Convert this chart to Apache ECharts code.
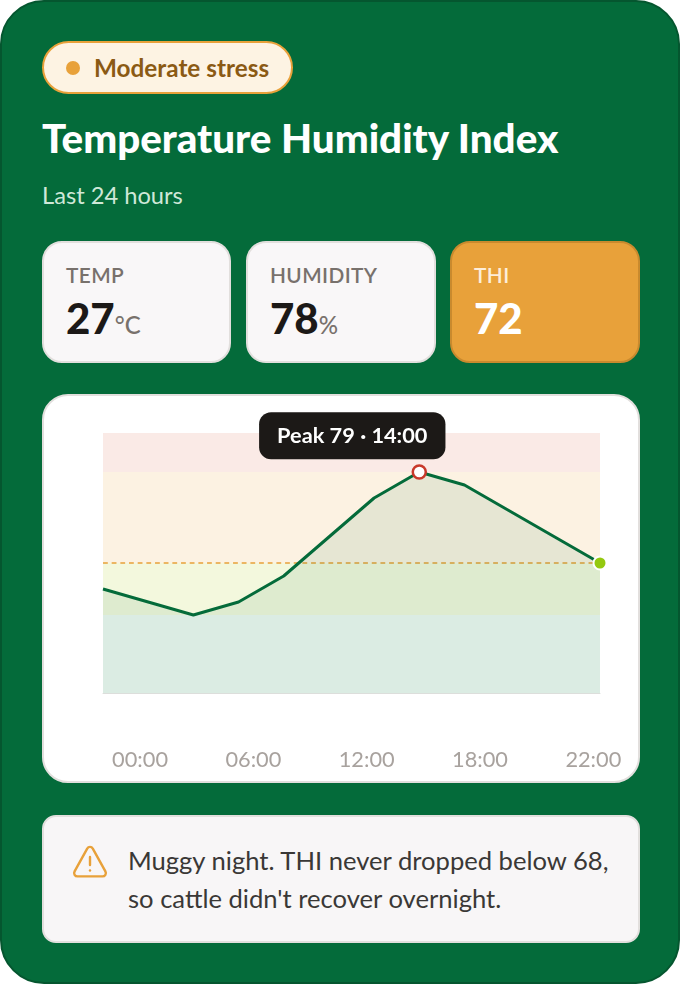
<!DOCTYPE html>
<html><head><meta charset="utf-8">
<script src="https://cdn.jsdelivr.net/npm/echarts@6/dist/echarts.min.js"></script>
<style>
*{box-sizing:border-box;margin:0;padding:0}
html,body{width:680px;height:984px;background:#fff;overflow:hidden;font-family:Lato,sans-serif}
.card{position:absolute;left:0;top:0;width:680px;height:984px;background:#046b3a;border:2px solid #05562f;border-radius:44px}
.abs{position:absolute}
.badge{left:42px;top:41px;width:251px;height:53px;background:#fdf3e3;border:2px solid #e8a13a;border-radius:27px}
.badge i{position:absolute;left:22px;top:18px;width:14px;height:14px;border-radius:50%;background:#e8a13a}
.badge span{position:absolute;left:50px;top:10px;font-size:24.32px;line-height:30px;font-weight:700;color:#8b5a14;white-space:nowrap}
.title{left:42px;top:115px;font-size:40.32px;line-height:46px;font-weight:900;color:#fff;white-space:nowrap}
.sub{left:42px;top:180px;font-size:23.68px;line-height:30px;color:#cfe8d8;white-space:nowrap}
.stat{top:241px;height:122px;background:#f9f7f8;border:2px solid #e2dfdd;border-radius:20px}
.stat .l{position:absolute;left:22px;top:19px;font-size:20.8px;line-height:26px;font-weight:600;letter-spacing:.4px;color:#78716c;white-space:nowrap}
.stat .v{position:absolute;left:22px;top:47px;font-size:42px;line-height:56px;font-weight:900;color:#1c1917;white-space:nowrap}
.stat .v small{font-size:24px;font-weight:500;color:#78716c}
.thi{background:#e8a13a;border-color:#c98a2e}
.thi .l{color:#fdeeda}.thi .v{color:#fff}
.chartbox{left:42px;top:394px;width:598px;height:389px;background:#fff;border:2px solid #e2dfdd;border-radius:26px}
#chart{position:absolute;left:0;top:0;width:630px;height:385px}
.note{left:42px;top:815px;width:598px;height:128px;background:#f8f6f7;border:2px solid #e2dfdd;border-radius:14px}
.note p{position:absolute;left:84px;top:24px;font-size:25.6px;line-height:38px;color:#3a3836;white-space:nowrap}
.note svg{position:absolute;left:28px;top:28px}
</style></head><body>
<div class="card"></div>
<div class="abs badge"><i></i><span>Moderate stress</span></div>
<div class="abs title">Temperature Humidity Index</div>
<div class="abs sub">Last 24 hours</div>
<div class="abs stat" style="left:42px;width:189px"><div class="l">TEMP</div><div class="v">27<small>°C</small></div></div>
<div class="abs stat" style="left:246px;width:190px"><div class="l">HUMIDITY</div><div class="v">78<small>%</small></div></div>
<div class="abs stat thi" style="left:450px;width:190px"><div class="l">THI</div><div class="v">72</div></div>
<div class="abs chartbox"><div id="chart"></div></div>
<div class="abs note">
<svg width="36" height="34" viewBox="0 0 36 34" fill="none" stroke="#e8a13a" stroke-width="2.4" stroke-linecap="round" stroke-linejoin="round"><path d="M15.2 3.6 2.6 26.4c-1.3 2.4.3 5 3 5h24.8c2.7 0 4.300-2.600 3-5L20.800 3.600c-1.300-2.300-4.300-2.300-5.600 0Z"/><path d="M18 12v8"/><path d="M18 25.500v.1"/></svg>
<p>Muggy night. THI never dropped below 68,<br>so cattle didn't recover overnight.</p></div>
<script>
const hours = ['00:00','02:00','04:00','06:00','08:00','10:00','12:00','14:00','16:00','18:00','20:00','22:00'];
const thiValues = [70,69,68,69,71,74,77,79,78,76,74,72];
const tickLabels = ['00:00','06:00','12:00','18:00','22:00'];
const bandRanges = [[79,82],[72,79],[68,72],[62,68]];
const bandColors = ['#faeae6','#fcf2e2','#f3f8dd','#dbece3'];
const thresholdValue = 72;
const yMin = 62, yMax = 82;
const peakIndex = 7, lastIndex = 11;

const chart = echarts.init(document.getElementById('chart'), null, {renderer:'canvas'});
chart.setOption({
  animation:false,
  grid:[
    {left:59,top:37,width:497,height:260},
    {left:39.4,top:340,width:566.6,height:1}
  ],
  xAxis:[
    {type:'category',gridIndex:0,data:hours,boundaryGap:false,
     axisLine:{show:true,lineStyle:{color:'#dcdedb',width:1}},axisTick:{show:false},axisLabel:{show:false}},
    {type:'category',gridIndex:1,data:tickLabels,boundaryGap:true,
     axisLine:{show:false},axisTick:{show:false},
     axisLabel:{show:true,interval:0,margin:12,color:'#a8a29e',fontFamily:'Lato',fontSize:21.76}}
  ],
  yAxis:[
    {type:'value',gridIndex:0,min:yMin,max:yMax,show:false,splitLine:{show:false}},
    {type:'value',gridIndex:1,min:0,max:1,show:false,splitLine:{show:false}}
  ],
  series:[{
    type:'line',xAxisIndex:0,yAxisIndex:0,data:thiValues,showSymbol:false,symbol:'none',
    lineStyle:{color:'#046b3a',width:3,join:'round'},
    areaStyle:{color:'#046b3a',opacity:0.085,origin:Math.min(...thiValues)},
    markArea:{silent:true,z:0,data:bandRanges.map((r,i)=>[
      {yAxis:r[1],itemStyle:{color:bandColors[i]}},{yAxis:r[0]}])},
    markLine:{silent:true,z:1,symbol:'none',label:{show:false},
      lineStyle:{color:'#e8a13a',type:[4.8,3.87],width:1.6,opacity:1},data:[{yAxis:thresholdValue}]},
    markPoint:{silent:true,data:[
      {coord:[peakIndex,thiValues[peakIndex]],symbol:'circle',symbolSize:13,
       itemStyle:{color:'#fff',borderColor:'#c8392b',borderWidth:2.5},
       label:{show:true,position:'top',distance:5,offset:[-67,0],
         formatter:'Peak '+thiValues[peakIndex]+' · '+hours[peakIndex],
         color:'#fff',fontFamily:'Lato',fontWeight:700,fontSize:21.76,lineHeight:27,
         backgroundColor:'#1c1917',borderRadius:12,padding:[10,18]}},
      {coord:[lastIndex,thiValues[lastIndex]],symbol:'circle',symbolSize:13,
       itemStyle:{color:'#94c90f',borderColor:'#fff',borderWidth:2},label:{show:false}}
    ]}
  },{type:'line',xAxisIndex:1,yAxisIndex:1,data:[],silent:true}]
});
</script>
</body></html>
